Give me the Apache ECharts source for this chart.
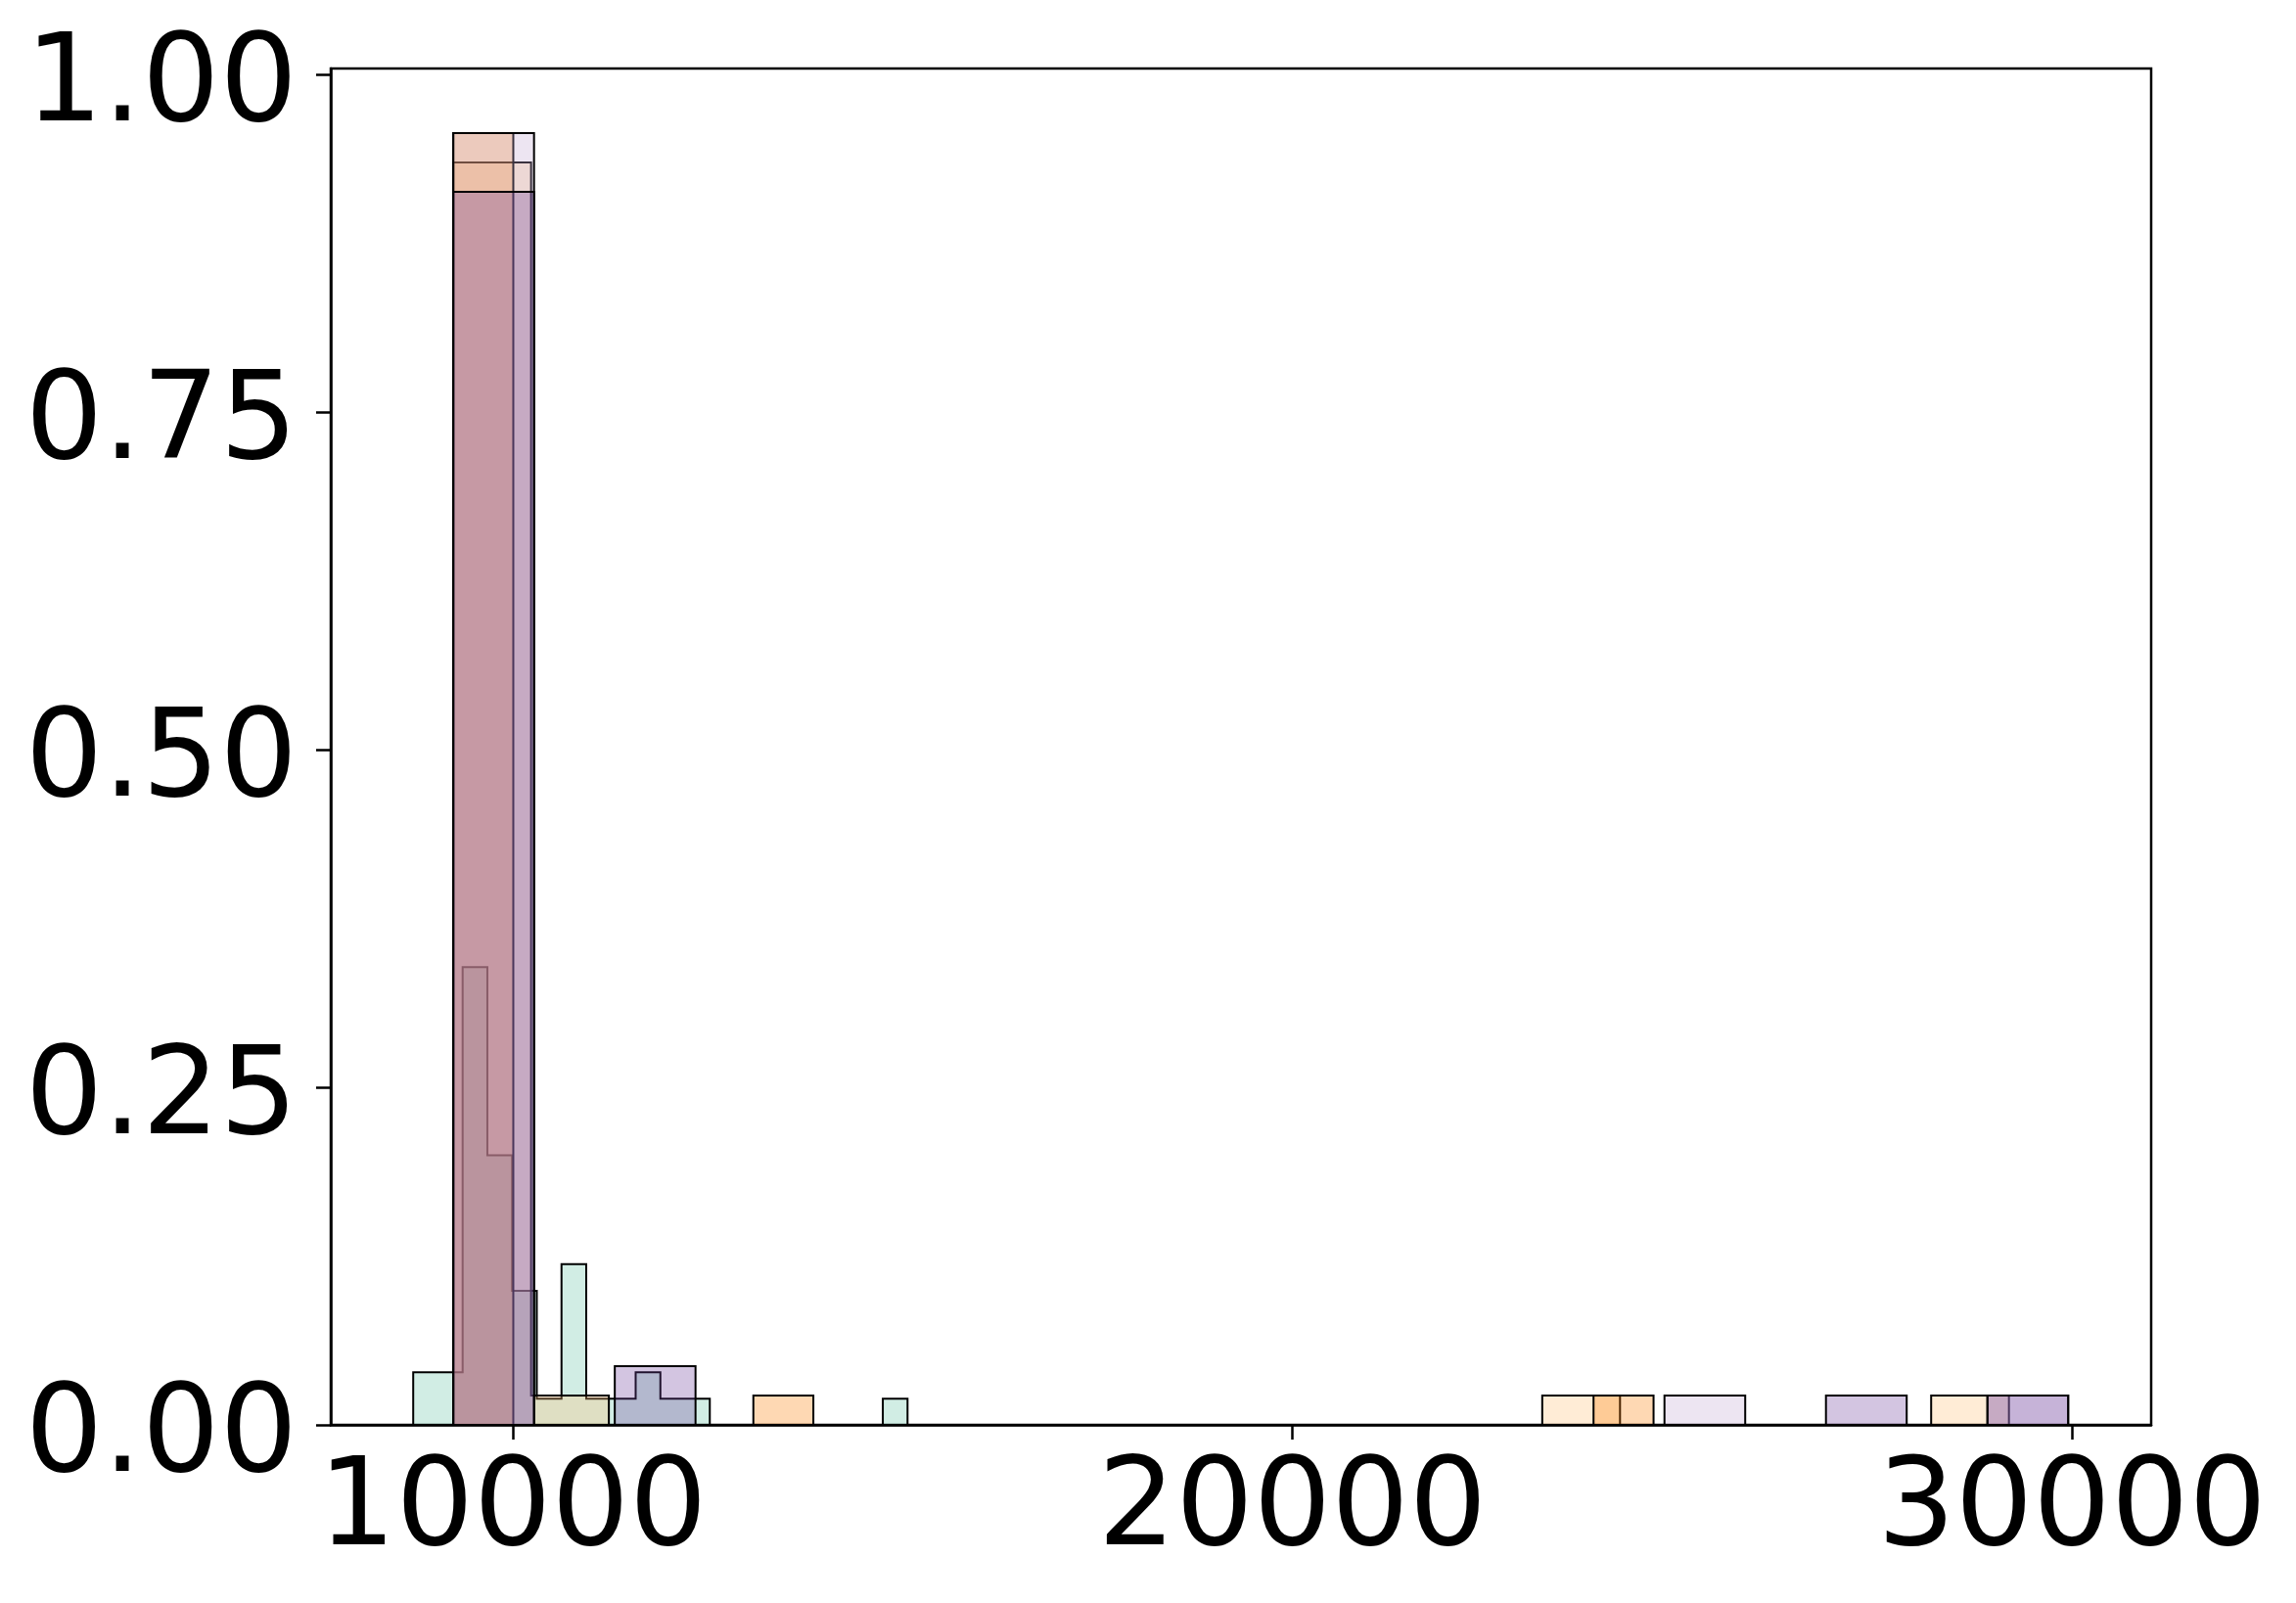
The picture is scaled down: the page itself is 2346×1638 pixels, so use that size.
<!DOCTYPE html>
<html>
<head>
<meta charset="utf-8">
<script src="https://cdn.jsdelivr.net/npm/echarts@6/dist/echarts.min.js"></script>
<style>
  html, body { margin: 0; padding: 0; background: #fff; }
  #chart { width: 2346px; height: 1638px; }
</style>
</head>
<body>
<div id="chart"></div>
<script>
// bins: each group has 20 equal bins from its own start, heights are probabilities
const tealStart = 8725, tealWidth = 317;
const tealHeights = [0.0389, 0.0389, 0.339, 0.1996, 0.0993, 0.0194, 0.119, 0.0194, 0.0194, 0.0389,
  0.0194, 0.0194, 0, 0, 0, 0, 0, 0, 0, 0.0194];

const creamStart = 9239, creamWidth = 997.6;
const creamHeights = [0.9348, 0.0217, 0, 0, 0, 0, 0, 0, 0, 0,
  0, 0, 0, 0, 0.0217, 0, 0, 0, 0, 0.0217];

const orangeStart = 9239, orangeWidth = 769.7;
const orangeHeights = [0.9565, 0, 0, 0, 0, 0.0217, 0, 0, 0, 0,
  0, 0, 0, 0, 0, 0, 0, 0, 0, 0.0217];

const lavenderStart = 9239, lavenderWidth = 1035.6;
const lavenderHeights = [0.9565, 0, 0, 0, 0, 0, 0, 0, 0, 0,
  0, 0, 0, 0, 0, 0.0217, 0, 0, 0, 0.0217];

const purpleStart = 9239, purpleWidth = 1035.6;
const purpleHeights = [0.913, 0, 0.0435, 0, 0, 0, 0, 0, 0, 0,
  0, 0, 0, 0, 0, 0, 0, 0.0217, 0, 0.0217];

const xTicks = [10000, 20000, 30000];
const yTicks = [0, 0.25, 0.5, 0.75, 1.0];

// bin edges + heights -> [x, y] points of the histogram outline
function binPoints(start, width, heights) {
  const pts = [[start, 0]];
  heights.forEach((h, i) => {
    pts.push([start + i * width, h]);
    pts.push([start + (i + 1) * width, h]);
  });
  pts.push([start + heights.length * width, 0]);
  return pts;
}

// one filled polygon per group (like a stepfilled hist), outline drawn with it
function histSeries(name, color, start, width, heights) {
  const pts = binPoints(start, width, heights);
  return {
    name: name,
    type: "custom",
    silent: true,
    data: pts,
    renderItem: function (params, api) {
      if (params.dataIndex !== 0) return null;
      return {
        type: "polygon",
        shape: { points: pts.map(p => api.coord(p)) },
        style: { fill: color, stroke: "#000", lineWidth: 2 }
      };
    }
  };
}

const labelFont = {
  fontFamily: "DejaVu Sans",
  fontSize: 125,
  color: "#000"
};

const chart = echarts.init(document.getElementById("chart"), null, { renderer: "canvas" });
chart.setOption({
  animation: false,
  backgroundColor: "#fff",
  grid: {
    left: 338,
    right: 148,
    top: 70,
    bottom: 182,
    show: true,
    borderColor: "#000",
    borderWidth: 2.5,
    backgroundColor: "transparent"
  },
  xAxis: {
    type: "value",
    min: 7668,
    max: 31015,
    splitLine: { show: false },
    axisLine: { lineStyle: { color: "#000", width: 2.5 } },
    axisTick: { length: 15, lineStyle: { color: "#000", width: 2.5 }, customValues: xTicks },
    axisLabel: Object.assign({ margin: 27, customValues: xTicks, formatter: v => String(v) }, labelFont)
  },
  yAxis: {
    type: "value",
    min: 0,
    max: 1.0043,
    splitLine: { show: false },
    axisLine: { show: true, lineStyle: { color: "#000", width: 2.5 } },
    axisTick: { show: true, length: 15, lineStyle: { color: "#000", width: 2.5 }, customValues: yTicks },
    // labels sit a little below their tick, as in the original
    axisLabel: Object.assign({ margin: 34, verticalAlign: "top", lineHeight: 30, customValues: yTicks, formatter: v => v.toFixed(2) }, labelFont)
  },
  series: [
    histSeries("teal", "rgba(102,194,165,0.3)", tealStart, tealWidth, tealHeights),
    histSeries("cream", "rgba(255,192,118,0.3)", creamStart, creamWidth, creamHeights),
    histSeries("orange", "rgba(252,125,2,0.3)", orangeStart, orangeWidth, orangeHeights),
    histSeries("lavender", "rgba(195,168,212,0.3)", lavenderStart, lavenderWidth, lavenderHeights),
    histSeries("purple", "rgba(108,62,155,0.3)", purpleStart, purpleWidth, purpleHeights)
  ]
});
</script>
</body>
</html>
